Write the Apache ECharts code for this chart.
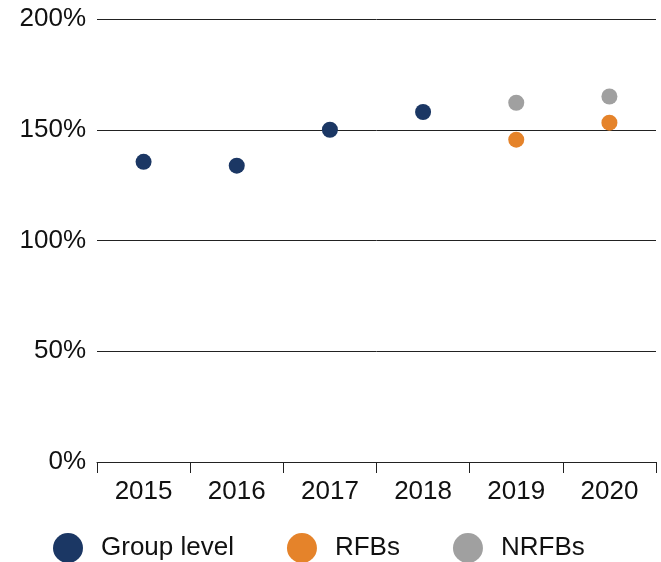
<!DOCTYPE html>
<html>
<head>
<meta charset="utf-8">
<script src="https://cdn.jsdelivr.net/npm/echarts@6/dist/echarts.min.js"></script>
<style>
  html, body { margin: 0; padding: 0; background: #fff; }
  #chart { width: 661px; height: 562px; }
</style>
</head>
<body>
<div id="chart"></div>
<script>
const years = ['2015', '2016', '2017', '2018', '2019', '2020']
const groupLevel = [135.5, 133.8, 150, 158, null, null]
const rfbs = [null, null, null, null, 145.5, 153.2]
const nrfbs = [null, null, null, null, 162.2, 165]

const font = 'Liberation Sans, Helvetica, Arial, sans-serif'
const chart = echarts.init(document.getElementById('chart'))

function dots (name, data, color) {
  return {
    type: 'scatter',
    name: name,
    data: data,
    symbol: 'circle',
    symbolSize: 16,
    itemStyle: { color: color, opacity: 1 },
    emphasis: { disabled: true }
  }
}

chart.setOption({
  animation: false,
  grid: { left: 97, right: 5, top: 19, bottom: 100 },
  legend: {
    left: 53,
    top: 533,
    icon: 'circle',
    itemWidth: 30,
    itemHeight: 30,
    itemGap: 53,
    padding: 0,
    textStyle: { fontFamily: font, fontSize: 26, color: '#111', padding: [0, 0, 0, 13] },
    data: ['Group level', 'RFBs', 'NRFBs']
  },
  xAxis: {
    type: 'category',
    data: years,
    boundaryGap: true,
    axisLine: { lineStyle: { color: '#222', width: 1 } },
    axisTick: { show: true, length: 11, lineStyle: { color: '#222' } },
    axisLabel: { fontFamily: font, fontSize: 26, color: '#111', margin: 17 },
    splitLine: { show: false }
  },
  yAxis: {
    type: 'value',
    min: 0,
    max: 200,
    interval: 50,
    axisLine: { show: false },
    axisTick: { show: false },
    axisLabel: { fontFamily: font, fontSize: 26, color: '#111', margin: 11, padding: [4, 0, 0, 0], formatter: '{value}%' },
    splitLine: { lineStyle: { color: '#222', width: 1 } }
  },
  series: [
    dots('Group level', groupLevel, '#1b3764'),
    dots('RFBs', rfbs, '#e5832a'),
    dots('NRFBs', nrfbs, '#a0a0a0')
  ]
})
</script>
</body>
</html>
